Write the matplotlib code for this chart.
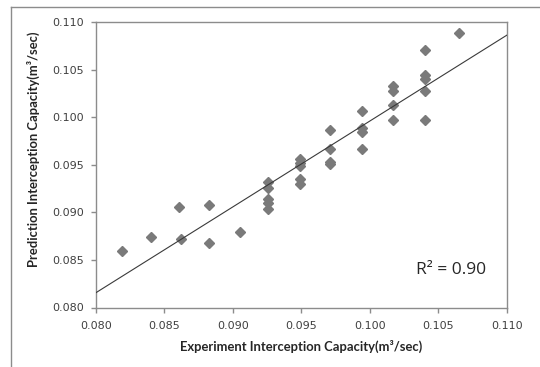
import numpy as np
import matplotlib
matplotlib.use("Agg")
import matplotlib.pyplot as plt
from matplotlib.lines import Line2D

# Data
experiment = [0.0819, 0.0840, 0.0861, 0.0862, 0.0883, 0.0883, 0.0905,
              0.0926, 0.0926, 0.0926, 0.0926, 0.0926,
              0.0949, 0.0949, 0.0949, 0.0949, 0.0949,
              0.0971, 0.0971, 0.0971, 0.0971,
              0.0994, 0.0994, 0.0994, 0.0994,
              0.1017, 0.1017, 0.1017, 0.1017,
              0.1040, 0.1040, 0.1040, 0.1040, 0.1040,
              0.1065]
prediction = [0.0859, 0.0874, 0.0906, 0.0872, 0.0908, 0.0868, 0.0879,
              0.0932, 0.0926, 0.0914, 0.0910, 0.0904,
              0.0956, 0.0952, 0.0949, 0.0935, 0.0930,
              0.0986, 0.0967, 0.0953, 0.0951,
              0.1006, 0.0989, 0.0984, 0.0967,
              0.1033, 0.1027, 0.1013, 0.0997,
              0.1071, 0.1044, 0.1040, 0.1027, 0.0997,
              0.1088]
ticks = [0.080, 0.085, 0.090, 0.095, 0.100, 0.105, 0.110]
tick_labels = ["0.080", "0.085", "0.090", "0.095", "0.100", "0.105", "0.110"]
r2_text = "R² = 0.90"

fig = plt.figure(figsize=(5.4, 3.67), dpi=100)
ax = fig.add_axes([95.7 / 540, 1 - 307.5 / 367, (507 - 95.7) / 540, 285.5 / 367])

# outer chart frame
fig.add_artist(Line2D([11 / 540, 11 / 540], [0, 1 - 7 / 367], transform=fig.transFigure,
                      color="#8c8c8c", lw=1))
fig.add_artist(Line2D([11 / 540, 1], [1 - 7 / 367, 1 - 7 / 367], transform=fig.transFigure,
                      color="#8c8c8c", lw=1))

ax.plot(experiment, prediction, linestyle="none", marker="D", ms=5.2,
        color="#7a7a7a", mec="#7a7a7a", zorder=3)

coef = np.polyfit(experiment, prediction, 1)
xl = np.array([0.080, 0.110])
ax.plot(xl, np.polyval(coef, xl), color="#3a3a3a", lw=0.8, zorder=4)

ax.set_xlim(0.080, 0.110)
ax.set_ylim(0.080, 0.110)
ax.set_xticks(ticks)
ax.set_xticklabels(tick_labels)
ax.set_yticks(ticks)
ax.set_yticklabels(tick_labels)
for s in ax.spines.values():
    s.set_color("#8c8c8c")
    s.set_linewidth(1)
ax.tick_params(direction="out", length=3.6, width=1, color="#8c8c8c",
               labelsize=8, labelcolor="#404040")
ax.tick_params(axis="y", pad=5)
ax.tick_params(axis="x", pad=6)

ax.set_xlabel("Experiment Interception Capacity(m³/sec)", fontsize=9.4,
              fontweight="bold", family=["Lato", "DejaVu Sans"], color="#262626")
ax.set_ylabel("Prediction Interception Capacity(m³/sec)", fontsize=9.4,
              fontweight="bold", family=["Lato", "DejaVu Sans"], color="#262626")
ax.xaxis.set_label_coords((301 - 95.7) / 411.3, (307.5 - 340) / 285.5)
ax.yaxis.set_label_coords((40 - 95.7) / 411.3, (307.5 - 149) / 285.5)

ax.text(0.865, 0.131, r2_text, transform=ax.transAxes, ha="center", va="center",
        fontsize=12.5, family=["Open Sans", "DejaVu Sans"], color="#262626")

fig.savefig("out.png", dpi=100)
